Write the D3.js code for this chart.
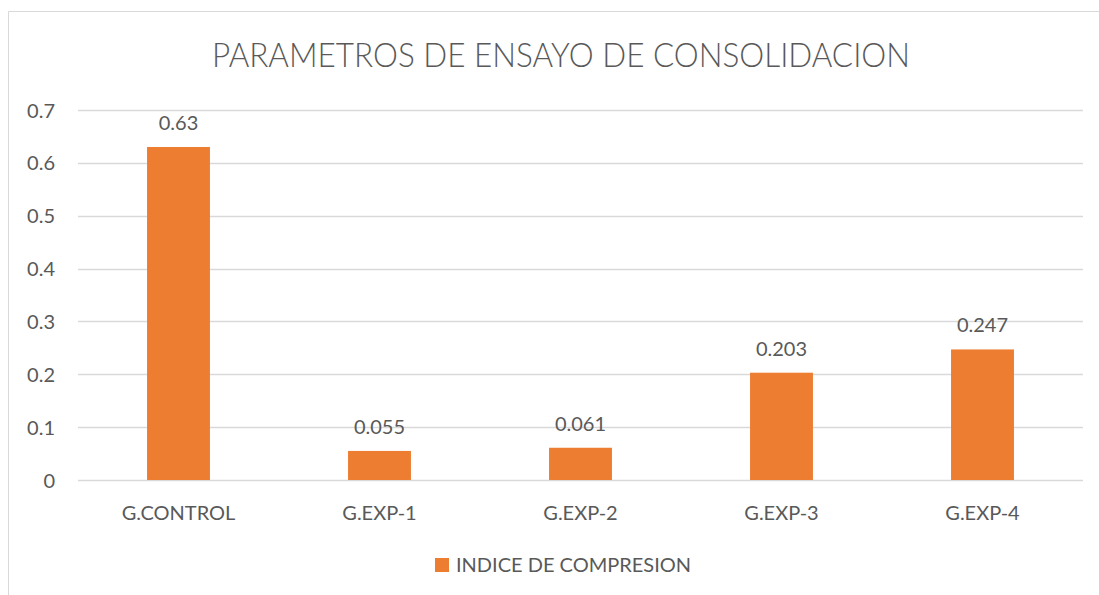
<!DOCTYPE html>
<html><head><meta charset="utf-8">
<script src="https://cdn.jsdelivr.net/npm/d3@7"></script>
<style>
html,body{margin:0;padding:0;background:#fff;}
svg text{font-family:Lato,"Open Sans",sans-serif;fill:#595959;}
</style></head>
<body><svg id="c" width="1099" height="595"></svg>
<script>
const title = "PARAMETROS DE ENSAYO DE CONSOLIDACION";
const seriesName = "INDICE DE COMPRESION";
const categories = ["G.CONTROL","G.EXP-1","G.EXP-2","G.EXP-3","G.EXP-4"];
const values = [0.63, 0.055, 0.061, 0.203, 0.247];
const labels = ["0.63","0.055","0.061","0.203","0.247"];
const yTicks = [0,0.1,0.2,0.3,0.4,0.5,0.6,0.7];

const svg = d3.select("#c");
const W = 1099, H = 595;
const m = {left:78, right:1083, top:110, bottom:480};

// border
svg.append("path").attr("d",`M8.5,${H} V11.5 H${W}`).attr("fill","none").attr("stroke","#D9D9D9").attr("stroke-width",1);

const x = d3.scaleBand().domain(categories).range([m.left,m.right]).paddingInner(0.687).paddingOuter(0.3435);
const y = d3.scaleLinear().domain([0,0.7]).range([m.bottom,m.top]);

// gridlines
svg.append("g").selectAll("line").data(yTicks).join("line")
  .attr("x1",m.left).attr("x2",m.right)
  .attr("y1",d=>Math.round(y(d))+0.5).attr("y2",d=>Math.round(y(d))+0.5)
  .attr("stroke","#D9D9D9").attr("stroke-width",1.3);

// y axis labels
const yAxis = d3.axisLeft(y).tickValues(yTicks).tickFormat(d=>d===0?"0":d3.format(".1f")(d)).tickSize(0).tickPadding(0);
const ga = svg.append("g").attr("transform",`translate(55,0)`).call(yAxis);
ga.select(".domain").remove();
ga.selectAll("text").attr("font-size",20).attr("dy","0.35em").style("font-family","Lato,sans-serif").attr("fill","#595959");

// bars
svg.append("g").selectAll("rect").data(values).join("rect")
  .attr("x",(d,i)=>x(categories[i])).attr("width",x.bandwidth())
  .attr("y",d=>y(d)).attr("height",d=>y(0)-y(d)).attr("fill","#ED7D31");

// data labels
svg.append("g").selectAll("text").data(values).join("text")
  .attr("x",(d,i)=>x(categories[i])+x.bandwidth()/2).attr("y",d=>y(d)-17)
  .attr("text-anchor","middle").attr("font-size",20).text((d,i)=>labels[i]);

// x axis labels
const xAxis = d3.axisBottom(x).tickSize(0).tickPadding(0);
const gx = svg.append("g").attr("transform",`translate(0,520)`).call(xAxis);
gx.select(".domain").remove();
gx.selectAll("text").attr("font-size",20).attr("dy",0).style("font-family","Lato,sans-serif").attr("fill","#595959");

// title
svg.append("text").attr("x",561).attr("y",67).attr("text-anchor","middle")
  .attr("font-size",33).attr("font-weight",300)
  .attr("textLength",698).attr("lengthAdjust","spacingAndGlyphs").text(title);

// legend
svg.append("rect").attr("x",435).attr("y",558).attr("width",14).attr("height",14).attr("fill","#ED7D31");
svg.append("text").attr("x",456).attr("y",572).attr("font-size",20).text(seriesName);
</script></body></html>
